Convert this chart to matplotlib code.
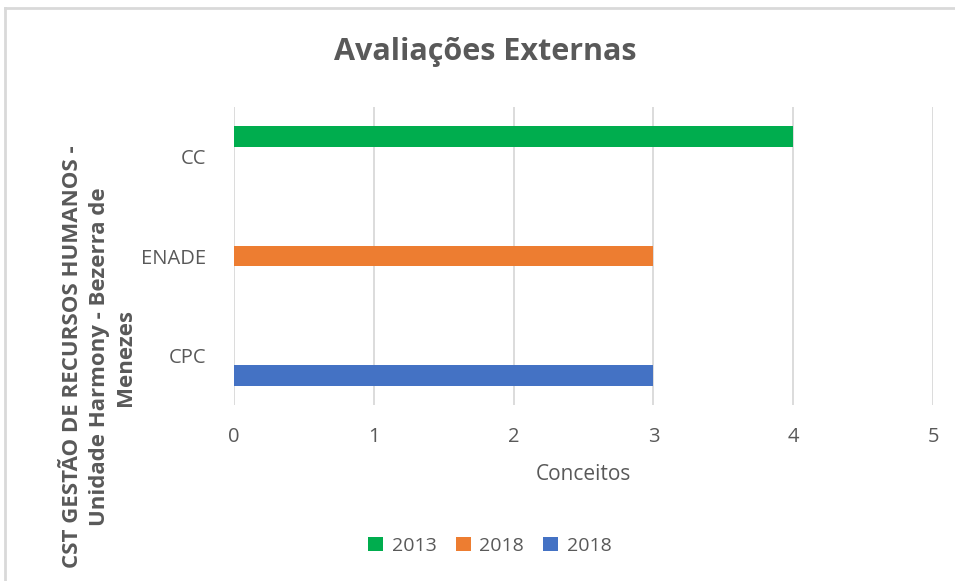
import matplotlib.pyplot as plt
from matplotlib.lines import Line2D
from matplotlib.patches import Patch

categories = ["CPC", "ENADE", "CC"]
series_names = ["2013", "2018", "2018"]
series_values = [
    [0, 0, 4],   # 2013 (verde) - so CC
    [0, 3, 0],   # 2018 (laranja) - so ENADE
    [3, 0, 0],   # 2018 (azul) - so CPC
]
series_colors = ["#00AD4E", "#ED7D31", "#4472C4"]
offsets = [0.2, 0.0, -0.2]
x_ticks = [0, 1, 2, 3, 4, 5]

plt.rcParams['font.family'] = ['Open Sans', 'DejaVu Sans']
grey = "#595959"

fig = plt.figure(figsize=(9.55, 5.81), dpi=100)
ax = fig.add_axes([234 / 955, 1 - 405 / 581, 699 / 955, 298 / 581])

ypos = list(range(len(categories)))
for vals, col, off in zip(series_values, series_colors, offsets):
    for y, v in zip(ypos, vals):
        if v > 0:
            ax.barh(y + off, v, height=0.21, color=col, zorder=3)

ax.set_xlim(0, 5)
ax.set_ylim(-0.5, 2.5)
ax.set_xticks(x_ticks)
ax.set_xticklabels([str(t) for t in x_ticks], fontsize=14.5, color=grey)
ax.set_yticks(ypos)
ax.set_yticklabels(categories, fontsize=14.5, color=grey)
ax.tick_params(axis='x', length=0, pad=16)
ax.tick_params(axis='y', length=0, pad=20)
ax.grid(axis='x', color="#D9D9D9", linewidth=1.3, zorder=0)
for s in ax.spines.values():
    s.set_visible(False)

ax.set_xlabel("Conceitos", fontsize=15, color=grey, labelpad=12)

fig.text(485 / 955, 1 - 52 / 581, "Avaliações Externas", fontsize=22, fontweight='bold',
         color=grey, ha='center', va='center')

fig.text(99 / 955, 1 - 357 / 581,
         "CST GESTÃO DE RECURSOS HUMANOS -\nUnidade Harmony - Bezerra de\nMenezes",
         fontsize=16, fontweight='bold', color=grey, rotation=90,
         ha='center', va='center', multialignment='center', linespacing=1.35)

handles = [Patch(facecolor=c, edgecolor='none') for c in series_colors]
fig.legend(handles, series_names, loc='center', bbox_to_anchor=(490 / 955, 1 - 546 / 581),
           ncol=3, frameon=False, fontsize=14, labelcolor=grey,
           handlelength=0.75, handleheight=0.75, handletextpad=0.45, columnspacing=1.0)

# moldura do grafico (so topo e esquerda visiveis)
fig.add_artist(Line2D([5 / 955, 1], [1 - 8 / 581, 1 - 8 / 581], color="#D9D9D9", linewidth=2))
fig.add_artist(Line2D([5 / 955, 5 / 955], [0, 1 - 8 / 581], color="#D9D9D9", linewidth=2))

fig.savefig("out.png", dpi=100)
